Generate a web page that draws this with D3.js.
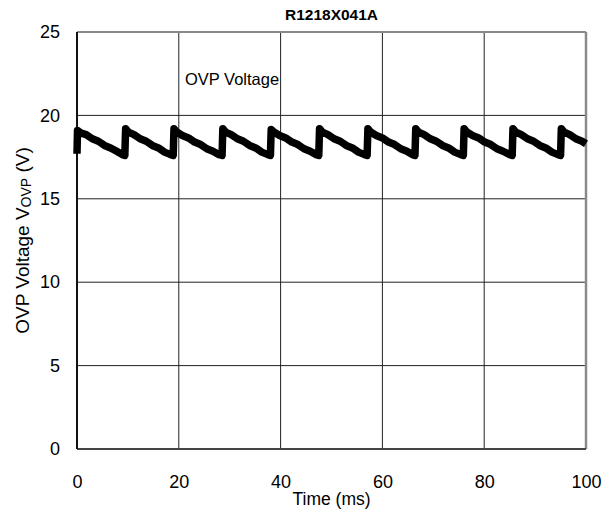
<!DOCTYPE html>
<html><head><meta charset="utf-8">
<script src="https://cdn.jsdelivr.net/npm/d3@7"></script>
<style>body{margin:0;background:#fff}svg{display:block;font-family:Arial,"Liberation Sans",sans-serif}</style>
</head><body><svg id="c" width="613" height="518"></svg>
<script>
const titleText = "R1218X041A";
const xTicks = [0, 20, 40, 60, 80, 100];
const yTicks = [0, 5, 10, 15, 20, 25];
const timeMs = [
  0, 0.1, 0.7, 1.8, 3.0, 4.2, 5.4, 6.6, 7.8, 8.9,
  9.4, 9.55, 10.1, 11.2, 12.4, 13.6, 14.8, 16.0, 17.2, 18.4,
  18.9, 19.05, 19.6, 20.7, 21.9, 23.1, 24.3, 25.5, 26.7, 27.9,
  28.5, 28.65, 29.2, 30.3, 31.5, 32.7, 33.9, 35.1, 36.3, 37.5,
  38.0, 38.15, 38.7, 39.8, 41.0, 42.2, 43.4, 44.6, 45.8, 47.0,
  47.5, 47.65, 48.2, 49.3, 50.5, 51.7, 52.9, 54.1, 55.3, 56.5,
  57.0, 57.15, 57.7, 58.8, 60.0, 61.2, 62.4, 63.6, 64.8, 65.9,
  66.4, 66.55, 67.1, 68.2, 69.4, 70.6, 71.8, 73.0, 74.2, 75.4,
  75.9, 76.05, 76.6, 77.7, 78.9, 80.1, 81.3, 82.5, 83.7, 85.0,
  85.5, 85.65, 86.2, 87.3, 88.5, 89.7, 90.9, 92.1, 93.3, 94.5,
  95.0, 95.15, 95.7, 96.8, 98.0, 99.2, 100
];
const voltage = [
  17.7, 19.1, 18.95, 18.85, 18.6, 18.45, 18.2, 18.05, 17.85, 17.65,
  17.6, 19.2, 19.0, 18.85, 18.6, 18.45, 18.2, 18.05, 17.8, 17.65,
  17.6, 19.2, 19.0, 18.8, 18.65, 18.4, 18.25, 18.0, 17.85, 17.65,
  17.6, 19.2, 19.0, 18.85, 18.6, 18.45, 18.2, 18.05, 17.8, 17.65,
  17.6, 19.15, 19.0, 18.8, 18.65, 18.4, 18.25, 18.0, 17.85, 17.65,
  17.6, 19.2, 19.0, 18.85, 18.6, 18.45, 18.2, 18.05, 17.8, 17.65,
  17.6, 19.2, 19.0, 18.8, 18.65, 18.4, 18.25, 18.0, 17.85, 17.65,
  17.6, 19.2, 19.0, 18.85, 18.6, 18.45, 18.2, 18.05, 17.8, 17.65,
  17.6, 19.2, 19.0, 18.8, 18.65, 18.4, 18.25, 18.0, 17.85, 17.65,
  17.6, 19.2, 19.0, 18.85, 18.6, 18.45, 18.2, 18.05, 17.8, 17.65,
  17.6, 19.2, 19.0, 18.85, 18.6, 18.45, 18.3
];

const svg = d3.select("#c");
const m = {l: 77, r: 27, t: 32, b: 69};
const W = 613 - m.l - m.r, H = 518 - m.t - m.b;
const x = d3.scaleLinear().domain([0, 100]).range([m.l, m.l + W]);
const y = d3.scaleLinear().domain([0, 25]).range([m.t + H, m.t]);
const FF = "Arial, 'Liberation Sans', sans-serif";

// grid
svg.append("g").selectAll("line").data(xTicks.slice(1, -1)).join("line")
  .attr("x1", d => x(d)).attr("x2", d => x(d)).attr("y1", m.t).attr("y2", m.t + H)
  .attr("stroke", "#222").attr("stroke-width", 1);
svg.append("g").selectAll("line").data(yTicks.slice(1, -1)).join("line")
  .attr("y1", d => y(d)).attr("y2", d => y(d)).attr("x1", m.l).attr("x2", m.l + W)
  .attr("stroke", "#222").attr("stroke-width", 1);

// frame
svg.append("line").attr("x1", m.l).attr("x2", m.l + W).attr("y1", m.t).attr("y2", m.t).attr("stroke", "#8a8a8a").attr("stroke-width", 2);
svg.append("line").attr("x1", m.l + W).attr("x2", m.l + W).attr("y1", m.t).attr("y2", m.t + H).attr("stroke", "#8a8a8a").attr("stroke-width", 2.5);
svg.append("line").attr("x1", m.l).attr("x2", m.l + W).attr("y1", m.t + H).attr("y2", m.t + H).attr("stroke", "#444").attr("stroke-width", 2);
svg.append("line").attr("x1", m.l).attr("x2", m.l).attr("y1", m.t).attr("y2", m.t + H).attr("stroke", "#111").attr("stroke-width", 2);

// axes labels
const xa = svg.append("g").attr("transform", `translate(0,${m.t + H})`)
  .call(d3.axisBottom(x).tickValues(xTicks).tickSize(0).tickPadding(26).tickFormat(d3.format("d")));
xa.select(".domain").remove();
xa.selectAll("text").attr("font-size", 18).attr("font-family", FF).attr("fill", "#000");
const ya = svg.append("g").attr("transform", `translate(${m.l},0)`)
  .call(d3.axisLeft(y).tickValues(yTicks).tickSize(0).tickPadding(17).tickFormat(d3.format("d")));
ya.select(".domain").remove();
ya.selectAll("text").attr("font-size", 18).attr("font-family", FF).attr("fill", "#000");

// line
const line = d3.line().x((d, i) => x(timeMs[i])).y((d, i) => y(voltage[i]));
svg.append("path").datum(voltage).attr("d", line).attr("fill", "none")
  .attr("stroke", "#000").attr("stroke-width", 7.5).attr("stroke-linejoin", "round").attr("stroke-linecap", "butt");

// annotation
svg.append("text").attr("x", 232).attr("y", 85).attr("text-anchor", "middle")
  .attr("font-size", 16.5).text("OVP Voltage");

svg.append("text").attr("x", x(50)).attr("y", 505).attr("text-anchor", "middle")
  .attr("font-size", 17.5).text("Time (ms)");
svg.append("text").attr("x", x(50)).attr("y", 20).attr("text-anchor", "middle")
  .attr("font-size", 15.5).attr("font-weight", "bold").text(titleText);
const yl = svg.append("text").attr("transform", `translate(29,${m.t + H / 2}) rotate(-90)`)
  .attr("text-anchor", "middle").attr("font-size", 19);
yl.append("tspan").text("OVP Voltage V");
yl.append("tspan").attr("font-size", 14).attr("dy", 2).text("OVP");
yl.append("tspan").attr("dy", -2).text(" (V)");
</script></body></html>
